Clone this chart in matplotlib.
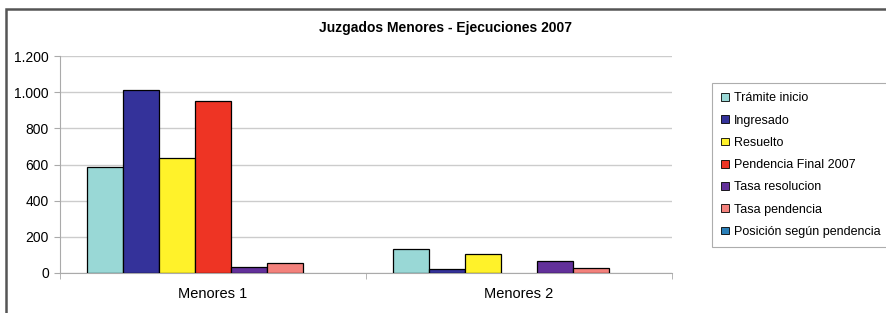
import numpy as np
import matplotlib.pyplot as plt
from matplotlib.patches import Rectangle

categorias = ["Menores 1", "Menores 2"]
series = ["Trámite inicio", "Ingresado", "Resuelto", "Pendencia Final 2007",
          "Tasa resolucion", "Tasa pendencia", "Posición según pendencia"]
valores = [
    [586, 133],    # Trámite inicio
    [1012, 22],    # Ingresado
    [636, 105],    # Resuelto
    [953, 0],      # Pendencia Final 2007
    [35, 68],      # Tasa resolucion
    [54, 29],      # Tasa pendencia
    [0, 0],        # Posición según pendencia
]
colores = ["#99D8D6", "#34329A", "#FFF22A", "#EE3424", "#62309A", "#F3817C", "#2A7FB8"]

plt.rcParams['font.family'] = ['Liberation Sans', 'DejaVu Sans']

fig = plt.figure(figsize=(8.86, 3.13), dpi=100)
# marco exterior (solo se ven los bordes izquierdo y superior)
fig.patches.append(Rectangle((6/886, -0.1), 1.2, 1.1 - 9/313, transform=fig.transFigure,
                             fill=False, edgecolor="#555555", linewidth=1.8))

ax = fig.add_axes([60/886, 1 - 273/313, 612/886, 217/313])

n = len(series)
ancho = 1.0 / (n + 1.5)
x = np.arange(len(categorias))
for i, (nombre, vals, col) in enumerate(zip(series, valores, colores)):
    pos = x - (n / 2) * ancho + (i + 0.5) * ancho
    bordes = ["black" if v > 0 else "none" for v in vals]
    ax.bar(pos, vals, width=ancho, color=col, edgecolor=bordes, linewidth=0.9,
           zorder=3)
    # entrada de leyenda con borde
    ax.bar([0], [0], width=0, color=col, edgecolor="black", linewidth=0.6, label=nombre)

ax.set_xlim(-0.5, 1.5)
ax.set_ylim(0, 1200)
ax.set_yticks(range(0, 1201, 200))
ax.set_yticklabels(["{:,}".format(v).replace(",", ".") for v in range(0, 1201, 200)])
ax.set_xticks(x)
ax.set_xticklabels(categorias, fontsize=10.5)
ax.set_xticks([-0.5, 0.5, 1.5], minor=True)
ax.tick_params(axis="x", which="major", length=0, pad=10)
ax.tick_params(axis="x", which="minor", length=4, color="#aaaaaa")
ax.tick_params(axis="y", length=4, color="#aaaaaa", labelsize=10, pad=4)
ax.grid(axis="y", color="#cccccc", linewidth=1, zorder=0)
for s in ["top", "right"]:
    ax.spines[s].set_visible(False)
for s in ["left", "bottom"]:
    ax.spines[s].set_color("#aaaaaa")

fig.text(446/886, 1 - 28/313, "Juzgados Menores - Ejecuciones 2007",
         ha="center", va="center", fontsize=10, fontweight="bold")

leg = fig.legend(loc="upper left", bbox_to_anchor=(712/886, 1 - 83/313),
                 fontsize=9, frameon=True, fancybox=False, edgecolor="#999999",
                 handlelength=0.6, handleheight=0.6, handletextpad=0.4,
                 labelspacing=0.82, borderpad=0.75, borderaxespad=0)
leg.get_frame().set_linewidth(0.8)

fig.savefig("out.png", dpi=100)
